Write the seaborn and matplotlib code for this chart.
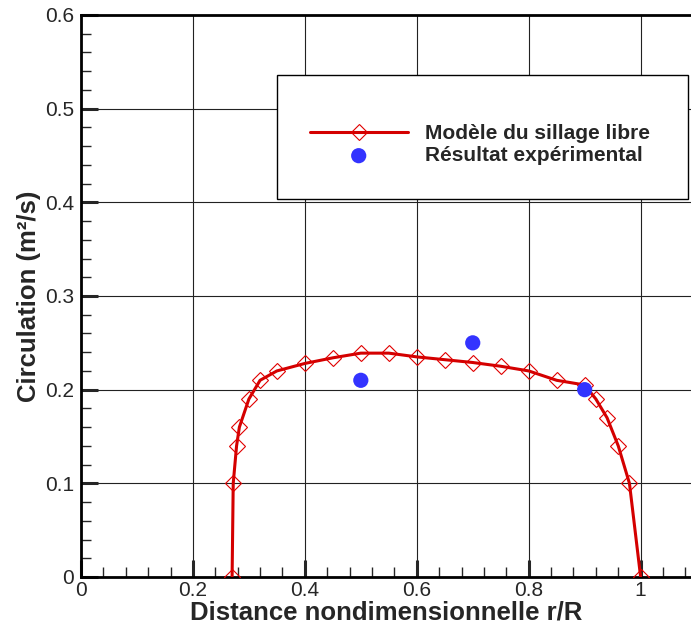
import seaborn as sns
import numpy as np
import pandas as pd
import matplotlib.pyplot as plt
from matplotlib.patches import Rectangle
from matplotlib.ticker import MultipleLocator, FuncFormatter

# free wake model (r/R, circulation)
model_r = [0.27, 0.272, 0.278, 0.283, 0.30, 0.32, 0.35, 0.40, 0.45, 0.50, 0.55, 0.60,
           0.65, 0.70, 0.75, 0.80, 0.85, 0.90, 0.92, 0.94, 0.96, 0.98, 1.00]
model_circ = [0.0, 0.10, 0.14, 0.16, 0.19, 0.21, 0.22, 0.228, 0.234, 0.239, 0.239, 0.235,
              0.232, 0.229, 0.225, 0.22, 0.21, 0.205, 0.19, 0.17, 0.14, 0.10, 0.0]

# experimental points
exp_r = [0.5, 0.7, 0.9]
exp_circ = [0.21, 0.25, 0.20]

label_model = "Modèle du sillage libre"
label_exp = "Résultat expérimental"

sns.set_style("white")
plt.rcParams['font.family'] = ['Liberation Sans', 'DejaVu Sans']

fig = plt.figure(figsize=(6.91, 6.33), dpi=100)
ax = fig.add_axes([81 / 691, 56 / 633, 610 / 691, 562 / 633])

df_model = pd.DataFrame({'r': model_r, 'c': model_circ})
df_exp = pd.DataFrame({'r': exp_r, 'c': exp_circ})

sns.lineplot(data=df_model, x='r', y='c', ax=ax, color='#d40000', lw=2.2,
             marker='D', markersize=8.5, markerfacecolor='none',
             markeredgecolor='#e00000', markeredgewidth=0.8,
             label=label_model, sort=False, zorder=3)
sns.scatterplot(data=df_exp, x='r', y='c', ax=ax, color='#3333ff', s=120,
                edgecolor='none', label=label_exp, zorder=4)

ax.set_xlim(0, 1.09)
ax.set_ylim(0, 0.6)

ax.xaxis.set_major_locator(MultipleLocator(0.2))
ax.xaxis.set_minor_locator(MultipleLocator(0.04))
ax.yaxis.set_major_locator(MultipleLocator(0.1))
ax.yaxis.set_minor_locator(MultipleLocator(0.02))
fmt = FuncFormatter(lambda v, p: f"{v:g}")
ax.xaxis.set_major_formatter(fmt)
ax.yaxis.set_major_formatter(fmt)

ax.grid(True, which='major', color='#222222', lw=0.8)
ax.tick_params(which='major', direction='in', length=12, width=2.2, labelsize=15,
               bottom=True, left=True)
ax.tick_params(axis='x', which='major', pad=3)
ax.tick_params(axis='y', which='major', pad=5)
ax.tick_params(which='minor', direction='in', length=7, width=1, bottom=True, left=True)

for s in ['left', 'bottom', 'top']:
    ax.spines[s].set_linewidth(2)
    ax.spines[s].set_color('black')
ax.spines['right'].set_visible(False)

ax.set_xlabel("Distance nondimensionnelle r/R", fontsize=18.5, fontweight='bold', labelpad=0)
ax.set_ylabel("Circulation (m²/s)", fontsize=18.5, fontweight='bold', labelpad=3)

# legend box
box = Rectangle((0.321, 0.673), 0.674, 0.22, transform=ax.transAxes, facecolor='white',
                edgecolor='black', lw=1, zorder=5)
ax.add_patch(box)
leg = ax.legend(loc='upper left', bbox_to_anchor=(0.375, 0.806), frameon=False,
                prop={'weight': 'bold', 'size': 15}, handlelength=4.7,
                handletextpad=0.85, labelspacing=0.15, borderpad=0, borderaxespad=0)
leg.set_zorder(6)

plt.savefig("out.png", dpi=100)
